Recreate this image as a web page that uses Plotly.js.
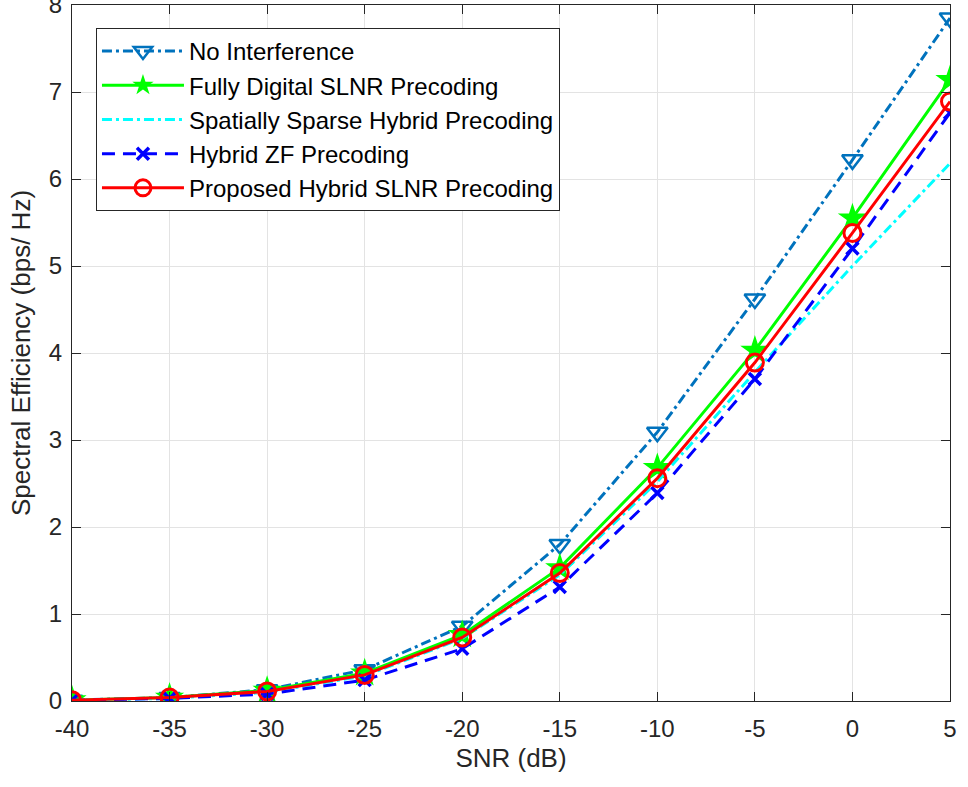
<!DOCTYPE html>
<html>
<head>
<meta charset="utf-8">
<script src="https://cdn.plot.ly/plotly-3.0.1.min.js"></script>
<style>html,body{margin:0;padding:0;background:#fff;}#chart{width:968px;height:787px;}</style>
</head>
<body>
<div id="chart"></div>
<script>
const snr = [-40, -35, -30, -25, -20, -15, -10, -5, 0, 5];
const xTickLabels = ['-40', '-35', '-30', '-25', '-20', '-15', '-10', '-5', '0', '5'];
const yTickVals = [0, 1, 2, 3, 4, 5, 6, 7, 8];
const yTickLabels = ['0', '1', '2', '3', '4', '5', '6', '7', '8'];
const noInterference = [0.01, 0.04, 0.13, 0.36, 0.86, 1.80, 3.09, 4.62, 6.22, 7.85];
const fullyDigital   = [0.01, 0.04, 0.12, 0.32, 0.76, 1.53, 2.68, 4.03, 5.55, 7.14];
const spatialSparse  = [0.01, 0.03, 0.10, 0.29, 0.72, 1.45, 2.52, 3.78, 5.00, 6.18];
const hybridZF       = [0.01, 0.03, 0.08, 0.24, 0.60, 1.31, 2.39, 3.70, 5.20, 6.76];
const proposed       = [0.01, 0.04, 0.11, 0.30, 0.73, 1.47, 2.56, 3.89, 5.38, 6.89];
const names = ['No Interference', 'Fully Digital SLNR Precoding', 'Spatially Sparse Hybrid Precoding', 'Hybrid ZF Precoding', 'Proposed Hybrid SLNR Precoding'];

const traces = [
  {x: snr, y: noInterference, name: names[0], mode: 'lines+markers',
   line: {color: '#0072BD', width: 3, dash: '10px,4px,3px,4px'},
   marker: {symbol: 'triangle-down-open', size: 18, color: '#0072BD', line: {width: 2.5, color: '#0072BD'}}},
  {x: snr, y: fullyDigital, name: names[1], mode: 'lines+markers',
   line: {color: '#00FF00', width: 3},
   marker: {symbol: 'star', size: 22, color: '#00FF00', line: {width: 0}}},
  {x: snr, y: spatialSparse, name: names[2], mode: 'lines',
   line: {color: '#00FFFF', width: 3, dash: '10px,4px,3px,4px'}},
  {x: snr, y: hybridZF, name: names[3], mode: 'lines+markers',
   line: {color: '#0000FF', width: 3, dash: '13px,8px'},
   marker: {symbol: 'x-thin-open', size: 12, color: '#0000FF', line: {width: 3.5, color: '#0000FF'}}},
  {x: snr, y: proposed, name: names[4], mode: 'lines+markers',
   line: {color: '#FF0000', width: 3},
   marker: {symbol: 'circle-open', size: 17, color: '#FF0000', line: {width: 3, color: '#FF0000'}}}
];

const axisCommon = {
  showline: true, linecolor: '#262626', linewidth: 1, mirror: 'ticks',
  ticks: 'inside', ticklen: 9, tickcolor: '#262626', tickwidth: 1,
  showgrid: true, gridcolor: '#e3e3e3', gridwidth: 1, zeroline: false,
  ticklabeloverflow: 'allow',
  tickfont: {family: 'Liberation Sans, Arial, sans-serif', size: 24, color: '#262626'}
};

const layout = {
  width: 968, height: 787,
  margin: {l: 72, r: 18, t: 5, b: 86},
  paper_bgcolor: '#fff', plot_bgcolor: '#fff',
  font: {family: 'Liberation Sans, Arial, sans-serif', color: '#262626'},
  xaxis: Object.assign({}, axisCommon, {
    range: [-40, 5], tickmode: 'array', tickvals: snr, ticktext: xTickLabels,
    ticklabelstandoff: 6,
    title: {text: 'SNR (dB)', font: {size: 26, color: '#262626'}, standoff: 8}
  }),
  yaxis: Object.assign({}, axisCommon, {
    range: [0, 8], tickmode: 'array', tickvals: yTickVals, ticktext: yTickLabels,
    ticklabelstandoff: 4,
    title: {text: 'Spectral Efficiency (bps/ Hz)', font: {size: 26, color: '#262626'}, standoff: 10}
  }),
  legend: {
    x: 0.0273, y: 0.967, xanchor: 'left', yanchor: 'top',
    bgcolor: '#fff', bordercolor: '#262626', borderwidth: 1,
    font: {family: 'Liberation Sans, Arial, sans-serif', size: 24, color: '#000'},
    itemwidth: 82, traceorder: 'normal'
  },
  showlegend: true
};

Plotly.newPlot('chart', traces, layout, {displayModeBar: false, staticPlot: true});
</script>
</body>
</html>
